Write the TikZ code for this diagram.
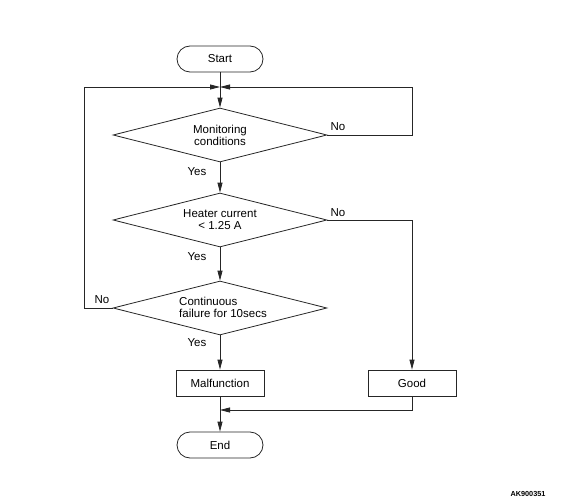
\documentclass[tikz,border=0pt]{standalone}
\usepackage{fontspec}
\setmainfont{Liberation Sans}
\usetikzlibrary{shapes.geometric,arrows.meta}

\tikzset{
  flow/.style={line width=0.8pt, draw=black!85},
  arr/.style={flow, -{Triangle[length=10pt,width=5pt]}},
  term/.style={flow, rounded corners=13pt, minimum width=86pt, minimum height=26pt, inner sep=0pt},
  proc/.style={flow, rectangle, minimum width=88pt, minimum height=26pt, inner sep=0pt},
  decide/.style={flow, diamond, aspect=4, minimum width=214pt, minimum height=54pt, inner sep=0pt, align=center},
  lbl/.style={inner sep=0pt},
}

\begin{document}
\begin{tikzpicture}[x=1pt,y=-1pt,font=\fontsize{11.5}{12}\selectfont]
\useasboundingbox (0,0) rectangle (566,503);

%boxes
\node[term] (start) at (220,59) {Start};
\node[decide] (mon) at (220,135) {Monitoring\\conditions};
\node[decide] (heat) at (220,220) {Heater current\\< 1.25 A};
\node[decide] (fail) at (220,308) {};
\node[align=left,inner sep=0pt] (failtxt) at (223,307) {Continuous\\failure for 10secs};
\node[proc] (malf) at (220,383) {Malfunction};
\node[proc] (good) at (412,383) {Good};
\node[term] (endbox) at (220,445) {End};

\coordinate (merge) at (220,87);
\coordinate (join) at (220,410);

%connectors
\draw[flow] (start) -- (merge);
\draw[arr] (merge) -- (mon);
\draw[arr] (mon.east) -- ++(85,0) |- (merge);
\draw[arr] (fail.west) -- ++(-28,0) |- (merge);
\draw[arr] (mon) -- (heat);
\draw[arr] (heat) -- (fail);
\draw[arr] (fail) -- (malf);
\draw[arr] (heat.east) -| (good.north);
\draw[arr] (good.south) |- (join);
\draw[arr] (malf) -- (endbox);

%labels
\node[lbl] (no1) at (338,127) {No};
\node[lbl] (yes1) at (197,172) {Yes};
\node[lbl] (no2) at (338,213) {No};
\node[lbl] (yes2) at (197,257) {Yes};
\node[lbl] (no3) at (102,300) {No};
\node[lbl] (yes3) at (197,343) {Yes};
\node[lbl,font=\fontsize{7.3}{8}\selectfont\bfseries] (code) at (528,494) {AK900351};
\end{tikzpicture}
\end{document}
